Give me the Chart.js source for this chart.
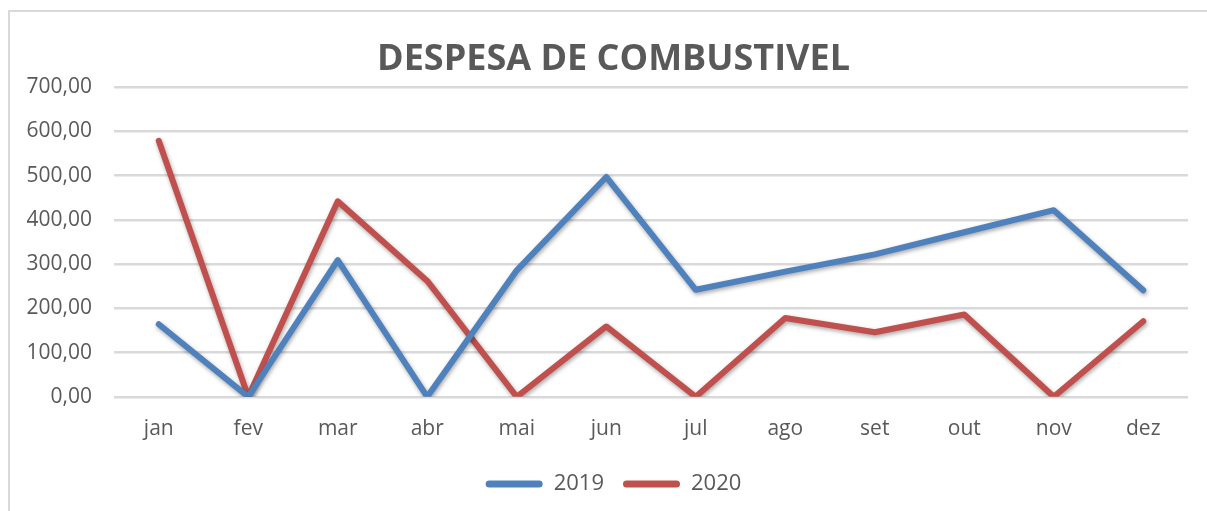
<!DOCTYPE html>
<html>
<head>
<meta charset="utf-8">
<script src="https://cdn.jsdelivr.net/npm/chart.js@4/dist/chart.umd.min.js"></script>
<style>
    html, body { margin: 0; padding: 0; background: #fff; overflow: hidden; }
    #moldura { position: absolute; left: 8px; top: 10px; width: 1400px; height: 700px; border: 2px solid #d9d9d9; }
    #caixa { position: absolute; left: 0; top: 0; width: 1207px; height: 511px; }
</style>
</head>
<body>
<div id="moldura"></div>
<div id="caixa"><canvas id="grafico"></canvas></div>
<script>
// Despesa de combustível por mês.
var MESES = ["jan", "fev", "mar", "abr", "mai", "jun", "jul", "ago", "set", "out", "nov", "dez"];
var ANOS = ["2019", "2020"];
var DESPESA_2019 = [164, 0, 309, 0, 286, 497, 242, 283, 322, 372, 422, 241];
var DESPESA_2020 = [579, 0, 442, 262, 0, 159, 0, 178, 146, 186, 0, 171];
var EIXO_Y = { min: 0, max: 700, passo: 100 };

var AZUL = "#4f81bd";
var VERMELHO = "#c0504d";
var TEXTO = "#595959";
var GRADE = "#d9d9d9";
var FONTE = "'Open Sans', sans-serif";

// Sombra suave nas linhas, como no original.
var sombra = {
    id: "sombra",
    beforeDatasetsDraw: function (chart) {
        var ctx = chart.ctx;
        ctx.save();
        ctx.shadowColor = "rgba(0,0,0,0.35)";
        ctx.shadowBlur = 4;
        ctx.shadowOffsetX = 1;
        ctx.shadowOffsetY = 2;
    },
    afterDatasetsDraw: function (chart) { chart.ctx.restore(); }
};

function serie(rotulo, valores, cor) {
    return {
        label: rotulo,
        data: valores,
        borderColor: cor,
        backgroundColor: cor,
        borderWidth: 6,
        borderCapStyle: "round",
        borderJoinStyle: "round",
        pointRadius: 0,
        tension: 0
    };
}

new Chart(document.getElementById("grafico"), {
    type: "line",
    data: {
        labels: MESES,
        datasets: [
            serie(ANOS[0], DESPESA_2019, AZUL),
            serie(ANOS[1], DESPESA_2020, VERMELHO)
        ]
    },
    options: {
        responsive: true,
        maintainAspectRatio: false,
        animation: false,
        layout: { padding: { left: 20, right: 0, top: 0, bottom: 6 } },
        plugins: {
            tooltip: { enabled: false },
            title: {
                display: true,
                text: "DESPESA DE COMBUSTIVEL",
                color: TEXTO,
                font: { family: FONTE, size: 36, weight: "bold" },
                padding: { top: 38, bottom: 6 }
            },
            legend: {
                position: "bottom",
                labels: {
                    color: TEXTO,
                    font: { family: FONTE, size: 22 },
                    boxWidth: 57,
                    boxHeight: 7,
                    useBorderRadius: true,
                    borderRadius: 3.5,
                    padding: 19,
                    generateLabels: function (chart) {
                        var itens = Chart.defaults.plugins.legend.labels.generateLabels(chart);
                        itens.forEach(function (it) { it.lineWidth = 0; });
                        return itens;
                    }
                }
            }
        },
        scales: {
            x: {
                offset: true,
                grid: { display: false },
                border: { display: false },
                ticks: {
                    color: TEXTO,
                    font: { family: FONTE, size: 21 },
                    padding: 12
                }
            },
            y: {
                min: EIXO_Y.min,
                max: EIXO_Y.max,
                afterFit: function (eixo) { eixo.width = 94; },
                grid: { color: GRADE, lineWidth: 2.5, drawTicks: false },
                border: { display: false },
                ticks: {
                    stepSize: EIXO_Y.passo,
                    color: TEXTO,
                    font: { family: FONTE, size: 21 },
                    padding: 22,
                    callback: function (v) { return Number(v).toFixed(2).replace(".", ","); }
                }
            },
            // margem direita vazia, para o título e a legenda ficarem centrados como no original
            margem: {
                position: "right",
                min: EIXO_Y.min,
                max: EIXO_Y.max,
                afterFit: function (eixo) { eixo.width = 19; },
                grid: { display: false },
                border: { display: false },
                ticks: { display: false }
            }
        }
    },
    plugins: [sombra]
});
</script>
</body>
</html>
